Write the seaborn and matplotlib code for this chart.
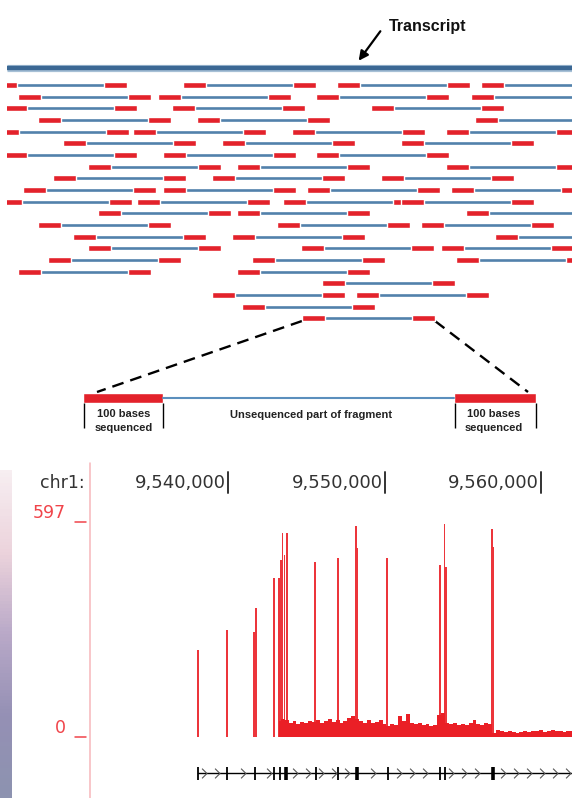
import numpy as np
import matplotlib
matplotlib.use("Agg")
import matplotlib.pyplot as plt
from matplotlib.colors import LinearSegmentedColormap
from matplotlib.lines import Line2D
from matplotlib.path import Path
from matplotlib.transforms import blended_transform_factory
import seaborn as sns

sns.set_theme(style="white")
plt.rcParams["font.family"] = ["DejaVu Sans"]
NARROW = ["Liberation Sans Narrow", "Liberation Sans", "DejaVu Sans"]

W, H = 572, 798

# ---------------- top: paired-end fragments along a transcript ----------------
# start of the left read of every fragment, one list per stacked row
frag_starts = [
    [-6, 183, 337, 481],
    [18, 158, 316, 471],
    [4, 172, 371],
    [38, 197, 475],
    [-4, 133, 292, 446],
    [63, 222, 401],
    [4, 163, 316],
    [88, 237, 446],
    [53, 212, 381],
    [23, 163, 307, 451],
    [-1, 137, 283, 401],
    [98, 237, 466],
    [38, 277, 421],
    [73, 232, 495],
    [88, 301, 441],
    [48, 252, 456],
    [18, 237],
    [322],
    [212, 356],
    [242],
    [302],
]
FRAG_LEN = 133
READ_LEN = 23

# ---------------- bottom: coverage track on chr1 ----------------
tick_pos = [9540000, 9550000, 9560000]
tick_labels = ["9,540,000", "9,550,000", "9,560,000"]
y_max = 597

# narrow exon spikes (position bp, coverage)
spike_pos = [9538096, 9539949, 9541661, 9541764, 9542939, 9543272, 9543380,
             9543483, 9543610, 9543764, 9545540, 9547029, 9548166, 9548275,
             9550173, 9553547, 9553834, 9553949, 9556851, 9556966]
spike_cov = [242, 297, 292, 357, 441, 441, 492,
             567, 505, 567, 487, 496, 586, 526,
             498, 478, 591, 473, 577, 528]

# background coverage, 250 bp bins starting at 9,543,250
base_start = 9543250
base_step = 250
base_cov = [45, 50, 46, 40, 44, 36, 42, 38, 45, 41, 48, 39, 44, 50, 42, 47,
            40, 45, 52, 58, 50, 44, 40, 46, 38, 42, 48, 35, 30, 36, 33, 58,
            45, 64, 40, 35, 38, 33, 36, 31, 34, 62, 68, 40, 36, 38, 33, 37,
            34, 40, 48, 36, 34, 38, 36, 12, 20, 16, 14, 17, 13, 11, 15, 17,
            14, 18, 16, 19, 15, 17, 20, 16, 18, 15, 17, 16]

# gene model: exon positions and whether drawn thick
exon_pos = [9538083, 9539936, 9541725, 9542939, 9543323, 9543706, 9545623,
            9547029, 9548243, 9550224, 9553547, 9553866, 9556934]
exon_thick = [0, 0, 0, 0, 0, 1, 0, 0, 1, 0, 0, 0, 1]

RED = "#e3222b"
SIG = "#ea1f26"
BLUE = "#5281ab"


def fx(px):
    return px / W


def fy(py):
    return 1 - py / H


fig = plt.figure(figsize=(W / 100, H / 100), dpi=100)

# ---- top diagram, axes in pixel-like units ----
ax = fig.add_axes([fx(7), fy(450), fx(572) - fx(7), 450 / H])
ax.set_xlim(7, 572)
ax.set_ylim(450, 0)
ax.axis("off")

ax.plot([7, 572], [68, 68], color="#a7c0d6", lw=5.2, solid_capstyle="butt")
ax.plot([7, 572], [68, 68], color="#3b6894", lw=3.2, solid_capstyle="butt")

for i, row in enumerate(frag_starts):
    y = 85 + 11.67 * i
    for s in row:
        ax.plot([s, s + FRAG_LEN], [y, y], color=BLUE, lw=1.9,
                solid_capstyle="butt", zorder=2)
        ax.broken_barh([(s, READ_LEN), (s + FRAG_LEN - READ_LEN, READ_LEN)],
                       (y - 3, 6), facecolors=RED, zorder=3)

ax.annotate("", xy=(357, 63), xytext=(382, 29),
            arrowprops=dict(arrowstyle="-|>", color="black", lw=1.6,
                            mutation_scale=14))
ax.text(389, 27, "Transcript", fontsize=11.5, fontweight="bold",
        ha="left", va="center", family=NARROW, color="#111111")

# zoomed fragment
last = frag_starts[-1][0]
ax.plot([last, 97], [321, 392], color="black", lw=1.7, dashes=(5, 3))
ax.plot([last + FRAG_LEN, 528], [321, 392], color="black", lw=1.7,
        dashes=(5, 3))
ax.plot([163, 454], [398, 398], color="#5b8fbd", lw=1.5)
ax.broken_barh([(83, 80), (454, 82)], (393, 10), facecolors=RED)
ax.vlines([83.5, 162.5, 454.5, 535.5], 403, 428, color="black", lw=1)
for cx in (124, 494):
    ax.text(cx, 421, "100 bases\nsequenced", fontsize=8, fontweight="bold",
            ha="center", va="center", family=NARROW, color="#222222",
            linespacing=1.45)
ax.text(311, 415, "Unsequenced part of fragment", fontsize=8,
        fontweight="bold", ha="center", va="center", family=NARROW,
        color="#222222")

# ---- bottom: browser track ----
bp_per_px = 10000 / 156.5
x0 = tick_pos[0] + (90 - 228) * bp_per_px
x1 = tick_pos[0] + (572 - 228) * bp_per_px

# left decorative strip
ax_strip = fig.add_axes([0, 0, fx(12), fy(470)])
cmap = LinearSegmentedColormap.from_list(
    "strip", ["#f7eef1", "#ecd3dc", "#b9a9c8", "#9590b5", "#8d93b0"])
ax_strip.imshow(np.linspace(0, 1, 100).reshape(-1, 1), aspect="auto",
                cmap=cmap)
ax_strip.axis("off")

fig.add_artist(Line2D([fx(90), fx(90)], [fy(463), 0], color="#f6b6ba",
                      lw=1.1, transform=fig.transFigure))

ax_sig = fig.add_axes([fx(90), fy(737), fx(572) - fx(90), (737 - 522) / H])
ax_sig.set_xlim(x0, x1)
ax_sig.set_ylim(0, y_max)
ax_sig.axis("off")

base_pos = base_start + base_step * np.arange(len(base_cov))
ax_sig.fill_between(base_pos, base_cov, step="mid", color=SIG, lw=0)
ax_sig.bar(spike_pos, spike_cov, width=115, color=SIG, lw=0, alpha=0.9)

blend_x = blended_transform_factory(ax_sig.transData, fig.transFigure)
fig.text(fx(85), fy(483), "chr1:", ha="right", va="center", fontsize=12.5,
         color="#333333")
for p, lab in zip(tick_pos, tick_labels):
    ax_sig.text(p - 2 * bp_per_px, fy(483), lab, transform=blend_x,
                ha="right", va="center", fontsize=13, color="#333333")
    ax_sig.plot([p, p], [fy(472), fy(493)], transform=blend_x,
                color="#333333", lw=1.4, clip_on=False)

blend_y = blended_transform_factory(fig.transFigure, ax_sig.transData)
for v in (y_max, 0):
    ax_sig.plot([fx(75), fx(86)], [v, v], transform=blend_y, color="#f0444a",
                lw=1.1, clip_on=False)
    ax_sig.annotate(str(v), xy=(fx(66), v), xycoords=blend_y,
                    xytext=(0, 3), textcoords="offset points", ha="right",
                    va="baseline", fontsize=12.5, color="#f0444a")

# gene model
ax_gene = fig.add_axes([fx(90), fy(786), fx(572) - fx(90), 26 / H])
ax_gene.set_xlim(x0, x1)
ax_gene.set_ylim(-1, 1)
ax_gene.axis("off")
ax_gene.plot([exon_pos[0], x1], [0, 0], color="black", lw=1)
thick = np.array(exon_thick) == 1
ax_gene.vlines(np.array(exon_pos)[~thick], -0.5, 0.5, color="black", lw=1.3)
ax_gene.vlines(np.array(exon_pos)[thick], -0.5, 0.5, color="black", lw=2.6)
chevron = Path([(-0.5, 1), (0.5, 0), (-0.5, -1)],
               [Path.MOVETO, Path.LINETO, Path.LINETO])
cpos = np.arange(exon_pos[0] + 6 * bp_per_px, x1, 13 * bp_per_px)
cpos = [c for c in cpos if np.min(np.abs(np.array(exon_pos) - c)) > 4 * bp_per_px]
ax_gene.plot(cpos, np.zeros(len(cpos)), ls="none", marker=chevron,
             markersize=7, markerfacecolor="none", markeredgecolor="#555555",
             markeredgewidth=0.8)

fig.savefig("out.png", dpi=100)
